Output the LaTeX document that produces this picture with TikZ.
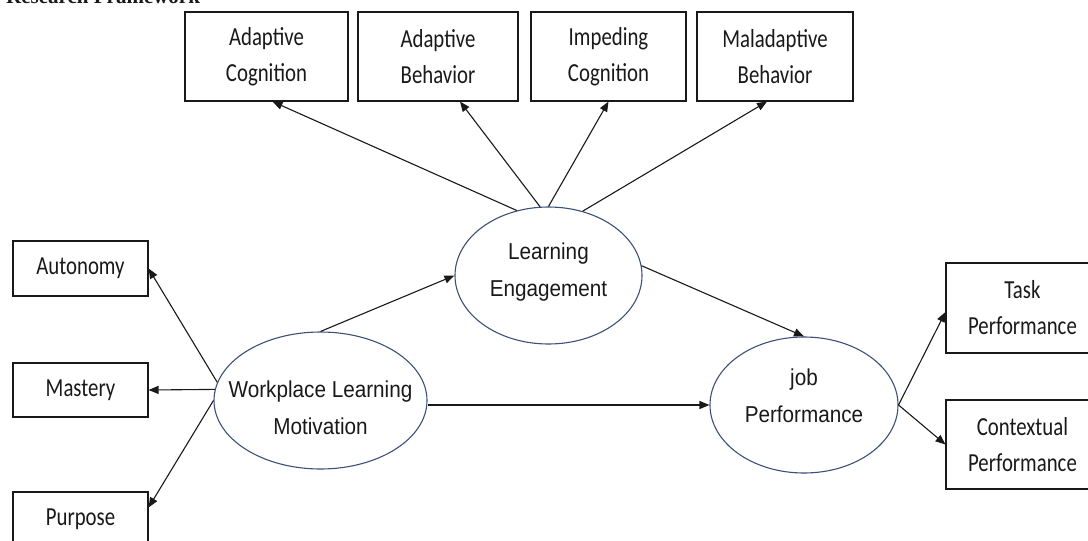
\documentclass[tikz,border=0pt]{standalone}
\usepackage{fontspec}
\usetikzlibrary{arrows.meta,shapes.geometric}
\newfontfamily\boxfont[FakeStretch=0.8]{Carlito}
\newfontfamily\ovalfont[FakeStretch=0.9]{Liberation Sans}
\newfontfamily\headfont{Liberation Serif}
\definecolor{ovalline}{RGB}{60,80,120}
\definecolor{ink}{RGB}{25,25,25}
\newcommand{\ctrline}[1]{\makebox[0pt]{#1}}
\begin{document}
\begin{tikzpicture}[x=1pt,y=-1pt,
  box/.style={draw=ink, line width=1.1pt, inner sep=0pt, align=center, text=ink,
    font=\boxfont\fontsize{26}{36}\selectfont},
  oval/.style={ellipse, draw=ovalline, line width=1.1pt, inner sep=0pt, align=center, text=ink,
    font=\ovalfont\fontsize{23}{37}\selectfont},
  link/.style={draw=ink, line width=1.1pt, -{Triangle[length=10pt,width=8pt]}}]
\path[use as bounding box] (0,0) rectangle (1088,541);
\clip (0,0) rectangle (1088,541);

% heading
\node[anchor=base west, inner sep=0pt, text=ink,
  font=\headfont\bfseries\fontsize{21}{25}\selectfont] (head) at (6,3) {Research Framework};

% engagement outcomes (top row)
\node[box, minimum width=163pt, minimum height=89pt] (ac) at (266.5,56.5) {Adaptive\\Cognition};
\node[box, minimum width=160pt, minimum height=89pt] (ab) at (438,56.5) {Adaptive\\Behavior};
\node[box, minimum width=155pt, minimum height=89pt] (ic) at (608.5,56.5) {Impeding\\Cognition};
\node[box, minimum width=156pt, minimum height=89pt] (mb) at (775,56.5) {Maladaptive\\Behavior};

% motivation dimensions (left column)
\node[box, minimum width=135pt, minimum height=55pt] (aut) at (80.5,268.5) {Autonomy};
\node[box, minimum width=135pt, minimum height=54pt] (mas) at (80.5,390) {Mastery};
\node[box, minimum width=135pt, minimum height=55pt] (pur) at (80.5,519.5) {Purpose};

% performance dimensions (right column)
\node[box, minimum width=153pt, minimum height=90pt] (task) at (1022.5,308) {Task\\Performance};
\node[box, minimum width=153pt, minimum height=89pt] (ctx) at (1022.5,444.5) {Contextual\\Performance};

% latent constructs
\node[oval, minimum width=213pt, minimum height=137pt, text height=69pt] (wlm) at (320.5,400.5)
  {\ctrline{Workplace Learning}\\\ctrline{Motivation}};
\node[oval, minimum width=187pt, minimum height=137pt, text depth=11pt] (le) at (548.5,275.5)
  {\ctrline{Learning}\\\ctrline{Engagement}};
\node[oval, minimum width=188pt, minimum height=136pt, text depth=18pt] (jp) at (804,405)
  {\ctrline{job}\\\ctrline{Performance}};

% paths
\draw[link] (wlm.170) -- (aut.east);
\draw[link] (wlm.174) -- (mas.east);
\draw[link] (wlm.west) -- ([yshift=12pt]pur.east);
\draw[link] (wlm.north) -- (le.west);
\draw[link] (wlm.east |- jp.west) -- (jp.west);
\draw[link] (le.6) -- (jp.north);
\draw[link] (le.116) -- ([xshift=6pt]ac.south);
\draw[link] (le.97) -- ([xshift=22pt]ab.south);
\draw[link] (le.north) -- (ic.south);
\draw[link] (le.62) -- ([xshift=-8pt]mb.south);
\draw[link] (jp.east) -- ([yshift=-4pt]task.west);
\draw[link] (jp.east) -- (ctx.west);
\end{tikzpicture}
\end{document}
